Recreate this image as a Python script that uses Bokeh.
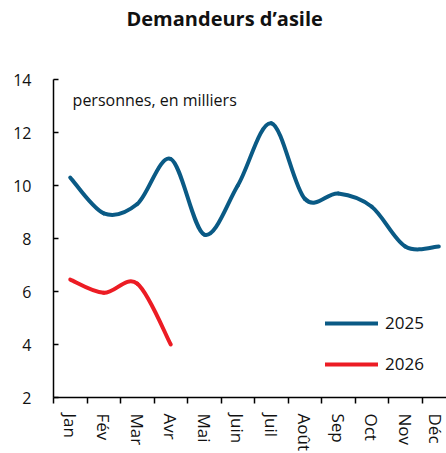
from bokeh.plotting import figure
from bokeh.models import (FixedTicker, Legend, LegendItem, Label, ColumnDataSource,
                          Range1d, Title)
from bokeh.embed import file_html
from bokeh.resources import INLINE

# ---- data ----
months = ["Jan", "Fév", "Mar", "Avr", "Mai", "Juin", "Juil", "Août", "Sep", "Oct", "Nov", "Déc"]
series_2025 = [10.3, 8.95, 9.3, 11.0, 8.15, 10.0, 12.35, 9.5, 9.7, 9.2, 7.7, 7.7]
series_2026 = [6.45, 5.95, 6.3, 4.0]
y_ticks = [2, 4, 6, 8, 10, 12, 14]

FONT = "Open Sans"
BLUE = "#0A5A85"
RED = "#EC1C24"


def smooth_source(ys):
    """Catmull-Rom style smoothing expressed as cubic Bezier control points."""
    n = len(ys)
    xs = list(range(n))
    d = dict(x0=[], y0=[], x1=[], y1=[], cx0=[], cy0=[], cx1=[], cy1=[])
    for i in range(n - 1):
        im, ip2 = max(i - 1, 0), min(i + 2, n - 1)
        d["x0"].append(xs[i]); d["y0"].append(ys[i])
        d["x1"].append(xs[i + 1]); d["y1"].append(ys[i + 1])
        d["cx0"].append(xs[i] + (xs[i + 1] - xs[im]) / 6)
        d["cy0"].append(ys[i] + (ys[i + 1] - ys[im]) / 6)
        d["cx1"].append(xs[i + 1] - (xs[ip2] - xs[i]) / 6)
        d["cy1"].append(ys[i + 1] - (ys[ip2] - ys[i]) / 6)
    return ColumnDataSource(d)


p = figure(width=446, height=453, output_backend="svg", toolbar_location=None,
           x_range=Range1d(-0.5, 11.23), y_range=Range1d(2, 14),
           min_border_left=53, min_border_right=0, min_border_top=79,
           min_border_bottom=49)
p.outline_line_color = None
p.grid.visible = False
p.background_fill_color = "white"

# spacer (nearest to frame) then the real title above it
spacer = Title(text=" ", text_font=FONT, text_font_size="20px", standoff=17)
p.add_layout(spacer, "above")
title = Title(text="Demandeurs d’asile", align="left", offset=73,
              text_font=FONT, text_font_size="20px", text_font_style="bold",
              text_color="#111111", standoff=0, vertical_align="top")
p.add_layout(title, "above")

# curves
r25 = p.bezier(x0="x0", y0="y0", x1="x1", y1="y1", cx0="cx0", cy0="cy0", cx1="cx1", cy1="cy1",
               source=smooth_source(series_2025), line_color=BLUE, line_width=4, line_cap="round")
r26 = p.bezier(x0="x0", y0="y0", x1="x1", y1="y1", cx0="cx0", cy0="cy0", cx1="cx1", cy1="cy1",
               source=smooth_source(series_2026), line_color=RED, line_width=4, line_cap="round")

legend = Legend(items=[LegendItem(label="2025", renderers=[r25], index=0),
                       LegendItem(label="2026", renderers=[r26], index=0)],
                location=(272, 22), orientation="vertical",
                border_line_color=None, background_fill_alpha=0,
                glyph_width=53, glyph_height=20, label_height=20,
                label_standoff=7, spacing=18, padding=0, margin=0,
                label_text_font=FONT, label_text_font_size="17px",
                label_text_color="#111111")
p.add_layout(legend, "center")

# x axis
xa = p.xaxis[0]
xa.ticker = FixedTicker(ticks=list(range(len(months))),
                        minor_ticks=[i - 0.5 for i in range(len(months) + 1)])
xa.major_label_overrides = {i: m for i, m in enumerate(months)}
xa.major_label_orientation = "vertical"
xa.major_tick_out = 0
xa.major_tick_in = 0
xa.minor_tick_out = 6
xa.minor_tick_in = 0
xa.minor_tick_line_color = "black"
xa.minor_tick_line_width = 1.5
xa.axis_line_color = "black"
xa.axis_line_width = 1.5
xa.major_label_standoff = 10
xa.major_label_text_font = FONT
xa.major_label_text_font_size = "17px"
xa.major_label_text_color = "#111111"

# y axis
ya = p.yaxis[0]
ya.ticker = FixedTicker(ticks=y_ticks)
ya.major_tick_in = 5
ya.major_tick_out = 0
ya.minor_tick_line_color = None
ya.major_tick_line_color = "black"
ya.major_tick_line_width = 1.5
ya.axis_line_color = "black"
ya.axis_line_width = 1.5
ya.major_label_standoff = 22
ya.major_label_text_font = FONT
ya.major_label_text_font_size = "16px"
ya.major_label_text_color = "#111111"

# note inside the plot
p.add_layout(Label(x=0.07, y=13.22, text="personnes, en milliers", text_font=FONT,
                   text_font_size="16px", text_baseline="middle", text_color="#111111"))

open("out.html", "w").write(file_html(p, INLINE))
